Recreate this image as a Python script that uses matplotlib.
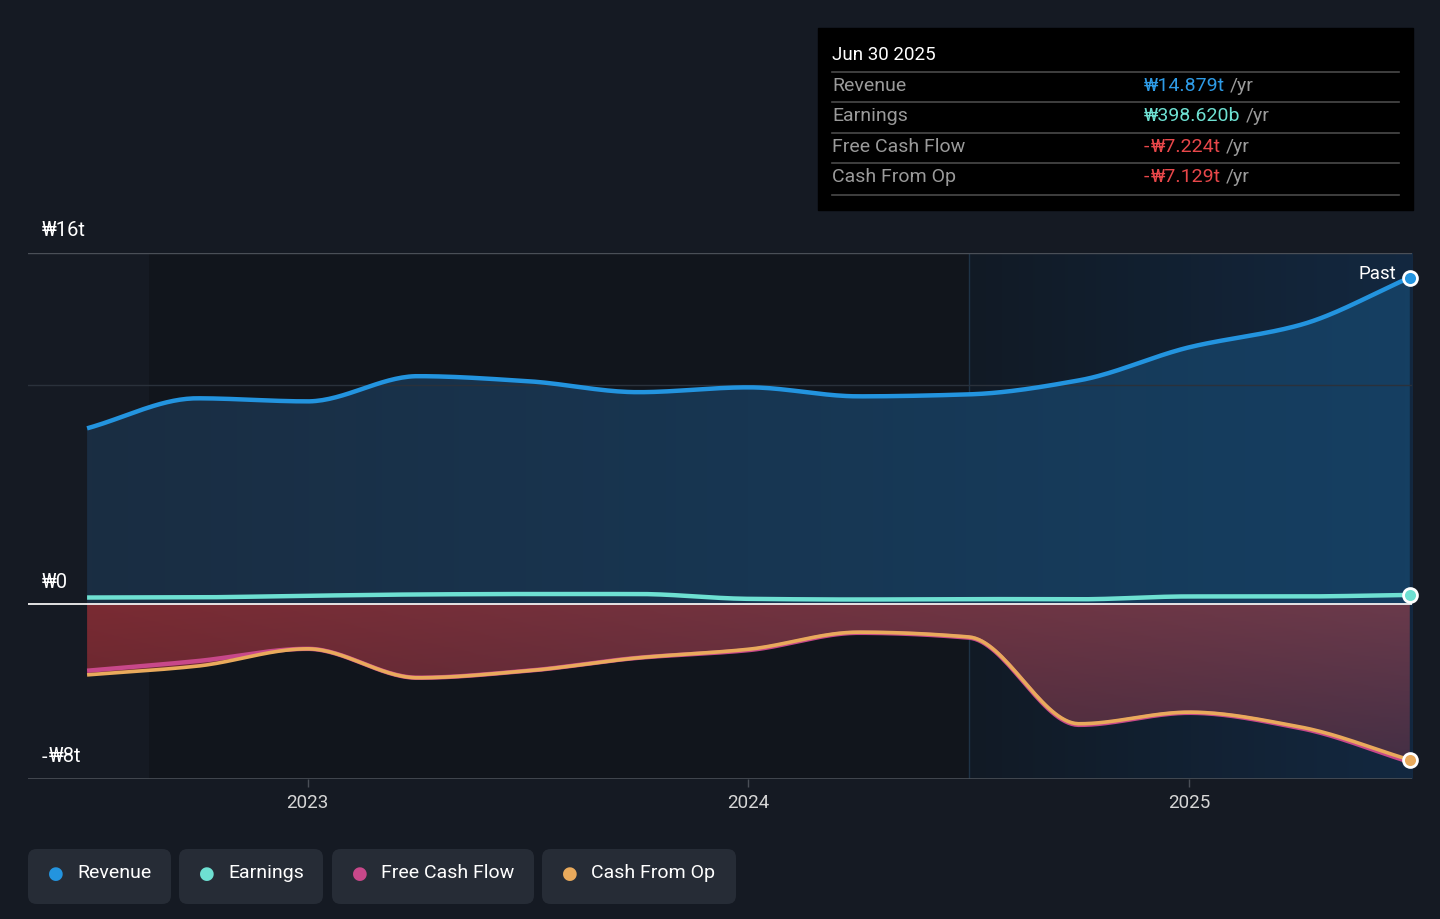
import numpy as np
import matplotlib.pyplot as plt
from matplotlib.colors import LinearSegmentedColormap
from matplotlib.patches import FancyBboxPatch, Rectangle, Polygon

plt.rcParams['font.family'] = ['Roboto', 'Noto Sans', 'DejaVu Sans']

# quarterly data, trillion KRW (trailing twelve months)
quarters = [2022.5, 2022.75, 2023.0, 2023.25, 2023.5, 2023.75, 2024.0,
            2024.25, 2024.5, 2024.75, 2025.0, 2025.25, 2025.5]
revenue = [8.00, 9.37, 9.23, 10.38, 10.15, 9.65, 9.87, 9.46, 9.55, 10.19, 11.70, 12.71, 14.879]
earnings = [0.28, 0.29, 0.36, 0.42, 0.44, 0.44, 0.22, 0.19, 0.21, 0.20, 0.33, 0.33, 0.3986]
free_cash_flow = [-3.06, -2.62, -2.06, -3.38, -3.06, -2.47, -2.12, -1.33, -1.55, -5.53, -4.98, -5.67, -7.224]
cash_from_op = [-3.25, -2.85, -2.06, -3.38, -3.06, -2.47, -2.08, -1.30, -1.52, -5.48, -4.95, -5.62, -7.129]

year_ticks = [2023, 2024, 2025]
year_labels = ['2023', '2024', '2025']

W, H = 1440, 919
BG = '#151a23'


def smooth(x, y, n=400):
    # monotone cubic (Fritsch-Carlson) just for drawing the curve
    x = np.asarray(x, float)
    y = np.asarray(y, float)
    h = np.diff(x)
    d = np.diff(y) / h
    m = np.zeros_like(y)
    m[0], m[-1] = d[0], d[-1]
    for k in range(1, len(y) - 1):
        if d[k - 1] * d[k] <= 0:
            m[k] = 0
        else:
            w1 = 2 * h[k] + h[k - 1]
            w2 = h[k] + 2 * h[k - 1]
            m[k] = (w1 + w2) / (w1 / d[k - 1] + w2 / d[k])
    xs = np.linspace(x[0], x[-1], n)
    idx = np.clip(np.searchsorted(x, xs) - 1, 0, len(x) - 2)
    t = (xs - x[idx]) / h[idx]
    h00 = 2 * t**3 - 3 * t**2 + 1
    h10 = t**3 - 2 * t**2 + t
    h01 = -2 * t**3 + 3 * t**2
    h11 = t**3 - t**2
    ys = h00 * y[idx] + h10 * h[idx] * m[idx] + h01 * y[idx + 1] + h11 * h[idx] * m[idx + 1]
    return xs, ys


def fx(px):
    return px / W


def fy(py):
    return 1 - py / H


fig = plt.figure(figsize=(W / 100, H / 100), dpi=100)
fig.patch.set_facecolor(BG)
renderer = fig.canvas.get_renderer()


def seg_text(x, y, parts, size):
    # draw text in pieces so the fallback glyph (₩) doesn't get bad kerning
    for s, col, gap in parts:
        t = fig.text(x, y, s, color=col, fontsize=size, va='center', ha='left')
        x = t.get_window_extent(renderer).x1 / W + gap / W
    return x


ax = fig.add_axes([fx(28), fy(779), fx(1412) - fx(28), fy(253) - fy(779)])
ax.set_facecolor(BG)
x0, x1 = 2022.366, 2025.505
ax.set_xlim(x0, x1)
ax.set_ylim(-8, 16)
for s in ax.spines.values():
    s.set_visible(False)

# background regions
ax.add_patch(Rectangle((2022.64, -8), 2024.5 - 2022.64, 24, color='#11151c', zorder=0, lw=0))
grad = np.linspace(0, 1, 256).reshape(1, -1)
ax.imshow(grad, extent=(2024.5, x1, -8, 16), aspect='auto', zorder=0.5,
          cmap=LinearSegmentedColormap.from_list('p', ['#111a25', '#132840']))
ax.axvline(2024.5, color='#1f3346', lw=1, zorder=1)

# gridlines
ax.axhline(16, color='#4a4f57', lw=1, zorder=1)
ax.axhline(10, color='#2a313b', lw=1, zorder=2.5)
ax.axhline(-8, color='#4a4f57', lw=1.2, zorder=1)

# revenue area
xs, rs = smooth(quarters, revenue)
cm_blue = LinearSegmentedColormap.from_list('b', ['#1a2d42', '#153f62'])
im = ax.imshow(grad, extent=(quarters[0], quarters[-1], 0, 16), aspect='auto', cmap=cm_blue, zorder=2)
poly = Polygon(np.column_stack([np.r_[xs, xs[-1], xs[0]], np.r_[rs, 0, 0]]), closed=True,
               transform=ax.transData, facecolor='none', edgecolor='none')
ax.add_patch(poly)
im.set_clip_path(poly)

# negative cash flow area
_, fs = smooth(quarters, free_cash_flow)
_, cs = smooth(quarters, cash_from_op)
low = np.minimum(fs, cs)
gx = np.linspace(0, 1, 256)
gy = np.linspace(0, 1, 128)
GX, GY = np.meshgrid(gx, gy)
left_top = np.array([0x7a, 0x2b, 0x33]) / 255
right_top = np.array([0x6a, 0x3a, 0x4b]) / 255
left_bot = np.array([0x5a, 0x24, 0x2c]) / 255
right_bot = np.array([0x40, 0x2e, 0x44]) / 255
top = left_top[None, None, :] * (1 - GX[..., None]) + right_top[None, None, :] * GX[..., None]
bot = left_bot[None, None, :] * (1 - GX[..., None]) + right_bot[None, None, :] * GX[..., None]
img = top * (1 - GY[..., None]) + bot * GY[..., None]
im2 = ax.imshow(img, extent=(quarters[0], quarters[-1], -8, 0), aspect='auto', origin='upper', zorder=2)
poly2 = Polygon(np.column_stack([np.r_[xs, xs[-1], xs[0]], np.r_[low, 0, 0]]), closed=True,
                transform=ax.transData, facecolor='none', edgecolor='none')
ax.add_patch(poly2)
im2.set_clip_path(poly2)

# zero line
ax.axhline(0, color='#f2f2f2', lw=1.3, zorder=3)

# lines
_, es = smooth(quarters, earnings)
ax.plot(xs, rs, color='#2394df', lw=3.2, zorder=5, solid_capstyle='butt')
ax.plot(xs, es, color='#6ee0d2', lw=3.2, zorder=5, solid_capstyle='butt')
ax.plot(xs, fs, color='#c8488a', lw=3.2, zorder=5, solid_capstyle='butt')
ax.plot(xs, cs, color='#e9aa5c', lw=2.6, zorder=6, solid_capstyle='butt')

# end markers
for val, col in [(revenue[-1], '#2394df'), (earnings[-1], '#6ee0d2'), (cash_from_op[-1], '#e9aa5c')]:
    ax.plot(quarters[-1], val, 'o', ms=10, mfc=col, mec='white', mew=2, zorder=8, clip_on=False)

ax.text(2025.47, revenue[-1] + 0.18, 'Past', color='white', fontsize=13.5, ha='right', va='center', zorder=9)

# x ticks
ax.set_xticks(year_ticks)
ax.set_xticklabels(year_labels)
ax.set_yticks([])
ax.tick_params(axis='x', colors='#4a4f57', length=6, width=1, labelcolor='#d6d6d6', labelsize=13.5, pad=5)

# y labels
seg_text(fx(42), fy(231), [('₩16t', 'white', 0)], 14.5)
seg_text(fx(42), fy(582), [('₩0', 'white', 0)], 14.5)
seg_text(fx(42), fy(757), [('-', 'white', 1), ('₩8t', 'white', 0)], 14.5)

# tooltip box
fig.patches.append(Rectangle((fx(818), fy(210)), fx(1413) - fx(818), fy(28) - fy(210),
                             transform=fig.transFigure, color='black', zorder=1))
fig.text(fx(832), fy(55), 'Jun 30 2025', color='white', fontsize=13.5, va='center', ha='left')
for ly in [72, 102, 133, 163, 195]:
    fig.lines.append(plt.Line2D([fx(832), fx(1399)], [fy(ly), fy(ly)], transform=fig.transFigure,
                                color='#4a4a4a', lw=1.2))
rows = [('Revenue', '', '₩14.879t', '#2e9be6', 86),
        ('Earnings', '', '₩398.620b', '#6ee0d2', 116),
        ('Free Cash Flow', '-', '₩7.224t', '#e8474a', 147),
        ('Cash From Op', '-', '₩7.129t', '#e8474a', 177)]
for name, sign, val, col, ry in rows:
    fig.text(fx(832), fy(ry), name, color='#9a9a9a', fontsize=14, va='center', ha='left')
    parts = [(sign, col, 1)] if sign else []
    parts.append((val, col, 0))
    xe = seg_text(fx(1144), fy(ry), parts, 14)
    fig.text(xe + fx(5), fy(ry), '/yr', color='#9a9a9a', fontsize=14, va='center', ha='left')

# legend buttons
legend_items = [('Revenue', '#2394df', 28, 171), ('Earnings', '#6ee0d2', 179, 323),
                ('Free Cash Flow', '#c8488a', 332, 534), ('Cash From Op', '#e9aa5c', 542, 736)]
for label, col, lx0, lx1 in legend_items:
    fig.patches.append(FancyBboxPatch((fx(lx0), fy(904)), fx(lx1) - fx(lx0), fy(849) - fy(904),
                                      boxstyle='round,pad=0,rounding_size=0.006', transform=fig.transFigure,
                                      facecolor='#262c36', edgecolor='none', mutation_aspect=W / H))
    fig.text(fx(lx0 + 28), fy(874), '●', color=col, fontsize=13, va='center', ha='center',
             family=['DejaVu Sans'])
    fig.text(fx(lx0 + 49), fy(873), label, color='white', fontsize=14, va='center', ha='left')

fig.savefig('out.png', dpi=100, facecolor=BG)
